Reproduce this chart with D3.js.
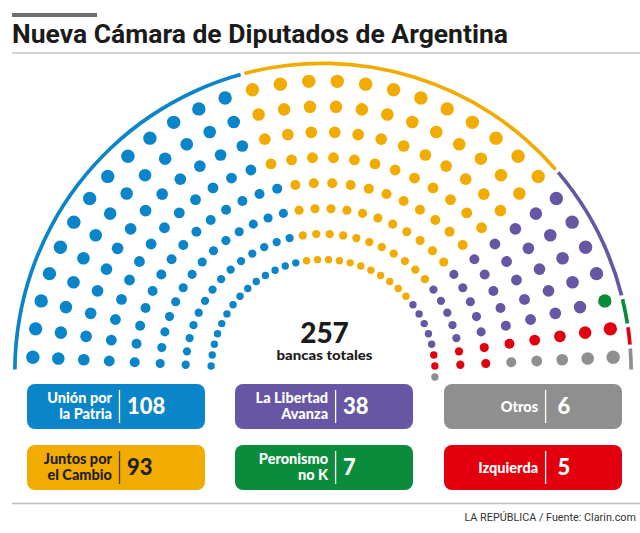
<!DOCTYPE html>
<html>
<head>
<meta charset="utf-8">
<script src="https://cdn.jsdelivr.net/npm/d3@7"></script>
<style>
  html, body { margin: 0; padding: 0; background: #fff; }
  svg { display: block; }
</style>
</head>
<body>
<div id="chart"></div>
<script>
// ---------- DATA ----------
const parties = ["Unión por la Patria", "Juntos por el Cambio", "La Libertad Avanza", "Peronismo no K", "Izquierda", "Otros"];
const partyLabelLines = [["Unión por", "la Patria"], ["Juntos por", "el Cambio"], ["La Libertad", "Avanza"], ["Peronismo", "no K"], ["Izquierda"], ["Otros"]];
const seats = [108, 93, 38, 7, 5, 6];            // legend values (and outer arc)
const seatsDrawn = [108, 92, 39, 1, 11, 6];      // dots as coloured in the hemicycle
const partyColors = ["#0a85c9", "#f2ab00", "#6756a3", "#0b8c3c", "#e2000f", "#8f8f8f"];
const legendOrder = [0, 1, 2, 3, 5, 4];          // column-wise: Unión, Juntos | Libertad, Peronismo | Otros, Izquierda
const totalSeats = 257;
const rowsCount = 8;
const seatsPerRow = 32;
const title = "Nueva Cámara de Diputados de Argentina";
const totalLabel = "bancas totales";
const footer = "LA REPÚBLICA / Fuente: Clarin.com";

// ---------- SETUP ----------
const W = 640, H = 533;
const svg = d3.select("#chart").append("svg").attr("width", W).attr("height", H);
const FONT = "Lato, Roboto, 'Open Sans', sans-serif";

// header
svg.append("rect").attr("x", 12).attr("y", 13).attr("width", 85).attr("height", 4).attr("fill", "#6d6e70");
svg.append("text").attr("x", 12).attr("y", 43)
  .attr("font-family", "Roboto, Lato, sans-serif").attr("font-weight", 700).attr("font-size", 26)
  .attr("fill", "#1b1b1b").attr("textLength", 496).attr("lengthAdjust", "spacingAndGlyphs")
  .text(title);
svg.append("line").attr("x1", 12).attr("x2", 640).attr("y1", 53).attr("y2", 53)
  .attr("stroke", "#a7a7a7").attr("stroke-width", 1.2);

// ---------- HEMICYCLE ----------
const cx = 323, cy = 371.5;
const g = svg.append("g").attr("transform", `translate(${cx},${cy})`);

const angle = d3.scaleLinear().domain([0, seatsPerRow]).range([Math.PI, 0]);
const radius = d3.scaleLinear().domain([0, rowsCount - 1]).range([112, 290.5]);
const dotSize = d3.scaleLinear().domain([0, rowsCount - 1]).range([3.7, 6.7]);

// seat grid: column by column (left to right), inner row to outer row
const seatList = [];
for (let c = 0; c < seatsPerRow; c++) {
  for (let r = 0; r < rowsCount; r++) seatList.push({ col: c, row: r });
}
// remaining seats continue on the innermost row
while (seatList.length < totalSeats) seatList.push({ col: seatsPerRow + (seatList.length - seatsPerRow * rowsCount), row: 0 });

const cum = d3.cumsum(seatsDrawn);
seatList.forEach((s, i) => { s.party = d3.bisectRight(cum, i); });

const colorScale = d3.scaleOrdinal().domain(d3.range(parties.length)).range(partyColors);

g.selectAll("circle.seat").data(seatList).join("circle")
  .attr("class", "seat")
  .attr("cx", d => radius(d.row) * Math.cos(angle(d.col + 0.5)))
  .attr("cy", d => -radius(d.row) * Math.sin(angle(d.col + 0.5)))
  .attr("r", d => dotSize(d.row))
  .attr("fill", d => colorScale(d.party));

// outer arc by party share
const pie = d3.pie().sort(null).startAngle(-Math.PI / 2).endAngle(Math.PI / 2).padAngle(0.009);
const arc = d3.arc().innerRadius(306.3).outerRadius(310);
g.selectAll("path.band").data(pie(seats)).join("path")
  .attr("class", "band").attr("d", arc).attr("fill", (d, i) => colorScale(i));

// centre total
g.append("text").attr("x", 1.5).attr("y", -28.5).attr("text-anchor", "middle")
  .attr("font-family", FONT).attr("font-weight", 900).attr("font-size", 28).attr("fill", "#1b1b1b")
  .text(d3.sum(seats));
g.append("text").attr("x", 1.5).attr("y", -11.5).attr("text-anchor", "middle")
  .attr("font-family", FONT).attr("font-weight", 900).attr("font-size", 14).attr("fill", "#1b1b1b")
  .attr("textLength", 96).attr("lengthAdjust", "spacingAndGlyphs")
  .text(totalLabel);

// ---------- LEGEND ----------
const colX = [27, 235, 444];
const rowY = [384, 445];
const sepOffset = [92.5, 100.6, 101.6];
const boxW = 178, boxH = 45;

legendOrder.forEach((p, k) => {
  const c = Math.floor(k / 2), r = k % 2;
  const x0 = colX[c], y0 = rowY[r];
  const dark = p === 1;
  const tc = dark ? "#231f20" : "#ffffff";
  const lg = svg.append("g").attr("transform", `translate(${x0},${y0})`);
  lg.append("rect").attr("width", boxW).attr("height", boxH).attr("rx", 8).attr("fill", colorScale(p));
  const sx = sepOffset[c];
  lg.append("line").attr("x1", sx).attr("x2", sx).attr("y1", 6).attr("y2", 39)
    .attr("stroke", dark ? "#4a3a10" : "#ffffff").attr("stroke-width", 1.3);
  const lines = partyLabelLines[p];
  const baseY = lines.length === 2 ? [19, 35] : [28];
  lines.forEach((t, li) => {
    lg.append("text").attr("x", sx - 7.5).attr("y", baseY[li]).attr("text-anchor", "end")
      .attr("font-family", FONT).attr("font-weight", 900).attr("font-size", 14.5).attr("fill", tc)
      .text(t);
  });
  lg.append("text").attr("x", sx + (c === 2 ? 12 : 7.5)).attr("y", 30)
    .attr("font-family", FONT).attr("font-weight", 900).attr("font-size", 22).attr("fill", tc)
    .text(seats[p]);
});

// ---------- FOOTER ----------
svg.append("line").attr("x1", 12).attr("x2", 640).attr("y1", 503.5).attr("y2", 503.5)
  .attr("stroke", "#bdbdbd").attr("stroke-width", 1.5);
svg.append("text").attr("x", 636).attr("y", 521).attr("text-anchor", "end")
  .attr("font-family", "Roboto, 'Open Sans', sans-serif").attr("font-size", 10.8).attr("fill", "#333")
  .text(footer);
</script>
</body>
</html>
